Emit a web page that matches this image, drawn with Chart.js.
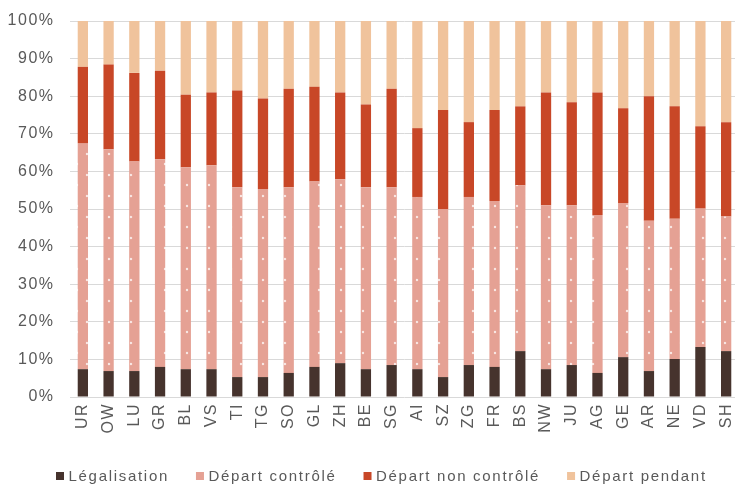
<!DOCTYPE html>
<html><head><meta charset="utf-8">
<script src="https://cdn.jsdelivr.net/npm/chart.js@4/dist/chart.umd.min.js"></script>
<style>html,body{margin:0;padding:0;overflow:hidden;background:#fff;width:735px;height:485px}canvas{display:block}</style>
</head><body>
<canvas id="c" width="740" height="495"></canvas>
<script>
const categories = ["UR","OW","LU","GR","BL","VS","TI","TG","SO","GL","ZH","BE","SG","AI","SZ","ZG","FR","BS","NW","JU","AG","GE","AR","NE","VD","SH"];
const legalisation = [7.4,6.9,6.9,8.0,7.4,7.4,5.3,5.3,6.4,8.0,9.0,7.4,8.5,7.4,5.3,8.5,8.0,12.2,7.4,8.5,6.4,10.6,6.9,10.1,13.3,12.2];
const departControle = [60.0,59.0,55.7,55.2,53.7,54.2,50.5,50.0,49.4,49.3,48.9,48.4,47.3,45.8,44.7,44.7,44.1,44.1,43.6,42.5,42.0,41.0,40.0,37.3,36.8,35.8];
const departNonControle = [20.4,22.5,23.6,23.6,19.3,19.4,25.7,24.1,26.2,25.2,23.1,22.0,26.2,18.3,26.3,19.9,24.2,21.0,30.0,27.4,32.6,25.2,33.1,29.9,21.9,25.1];
const departPendant = [12.2,11.6,13.8,13.2,19.6,19.0,18.5,20.6,18.0,17.5,19.0,22.2,18.0,28.5,23.7,26.9,23.7,22.7,19.0,21.6,19.0,23.2,20.0,22.7,28.0,26.9];
const seriesNames = ["Légalisation","Départ contrôlé","Départ non contrôlé","Départ pendant"];
const yTicks = [0,10,20,30,40,50,60,70,80,90,100];

const colors = ["#46332D","#E5A194","#C84727","#F0C39C"];

function makePattern(){
  const t = document.createElement('canvas');
  t.width = 22; t.height = 21;
  const g = t.getContext('2d');
  g.fillStyle = colors[1]; g.fillRect(0,0,22,21);
  g.fillStyle = 'rgba(255,255,255,0.75)';
  const dots = [[21,7],[11,17]];
  for (const [x,y] of dots){
    for (const dx of [-22,0,22]) for (const dy of [-21,0,21]){
      g.beginPath(); g.arc(x+dx,y+dy,1.2,0,Math.PI*2); g.fill();
    }
  }
  return document.getElementById('c').getContext('2d').createPattern(t,'repeat');
}
const dotted = makePattern();

const PLOT_BOTTOM = 397;
const font = 'Liberation Sans, Arial, sans-serif';
const LEGEND = { x0: 56, y: 476, box: 8, textGap: 12.5, itemGap: 27, size: 15, spacing: '1.7px' };

const spacing = {
  id:'spacing',
  beforeUpdate(c){ c.ctx.letterSpacing = '1.5px'; },
  beforeDraw(c){ c.ctx.letterSpacing = '1.5px'; },
  afterDraw(c){
    const g = c.ctx;
    g.save();
    g.letterSpacing = LEGEND.spacing;
    g.font = LEGEND.size + 'px ' + font;
    g.textBaseline = 'middle';
    g.textAlign = 'left';
    let x = LEGEND.x0;
    c.data.datasets.forEach((ds, i) => {
      g.fillStyle = colors[i];
      g.fillRect(x, LEGEND.y - LEGEND.box/2, LEGEND.box, LEGEND.box);
      g.fillStyle = '#595959';
      const tx = x + LEGEND.textGap;
      g.fillText(ds.label, tx, LEGEND.y + 0.5);
      x = tx + g.measureText(ds.label).width + LEGEND.itemGap;
    });
    g.restore();
  }
};

const series = [legalisation, departControle, departNonControle, departPendant];

new Chart(document.getElementById('c'), {
  type: 'bar',
  data: {
    labels: categories,
    datasets: series.map((d,i)=>({
      label: seriesNames[i],
      data: d,
      backgroundColor: i===1 ? dotted : colors[i],
      borderWidth: 0,
      barPercentage: 0.4,
      categoryPercentage: 1.0
    }))
  },
  plugins: [spacing],
  options: {
    responsive: false,
    animation: false,
    events: [],
    layout: { autoPadding: false, padding: { left: 0, right: 1, top: 21, bottom: 0 } },
    scales: {
      x: {
        stacked: true,
        grid: { display: false, drawTicks: false },
        border: { display: false },
        ticks: { minRotation: 90, maxRotation: 90, autoSkip: false, padding: 6, color: '#595959', font: { family: font, size: 16 } },
        afterFit(s){
          s.paddingLeft = 0; s.paddingRight = 0; s.paddingTop = 0; s.paddingBottom = 0;
          s.height = s.chart.height - PLOT_BOTTOM;
        }
      },
      y: {
        stacked: true,
        min: 0, max: 100,
        afterBuildTicks(s){ s.ticks = yTicks.map(v=>({value:v})); },
        grid: { color: '#D9D9D9', lineWidth: 1, drawTicks: false },
        border: { display: false },
        ticks: { padding: 15.5, color: '#595959', font: { family: font, size: 16 }, callback: v => v + '%' },
        afterFit(s){ s.width = 70; s.paddingTop = 0; s.paddingBottom = 0; }
      }
    },
    plugins: {
      tooltip: { enabled: false },
      legend: { display: false }
    }
  }
});
</script>
</body></html>
